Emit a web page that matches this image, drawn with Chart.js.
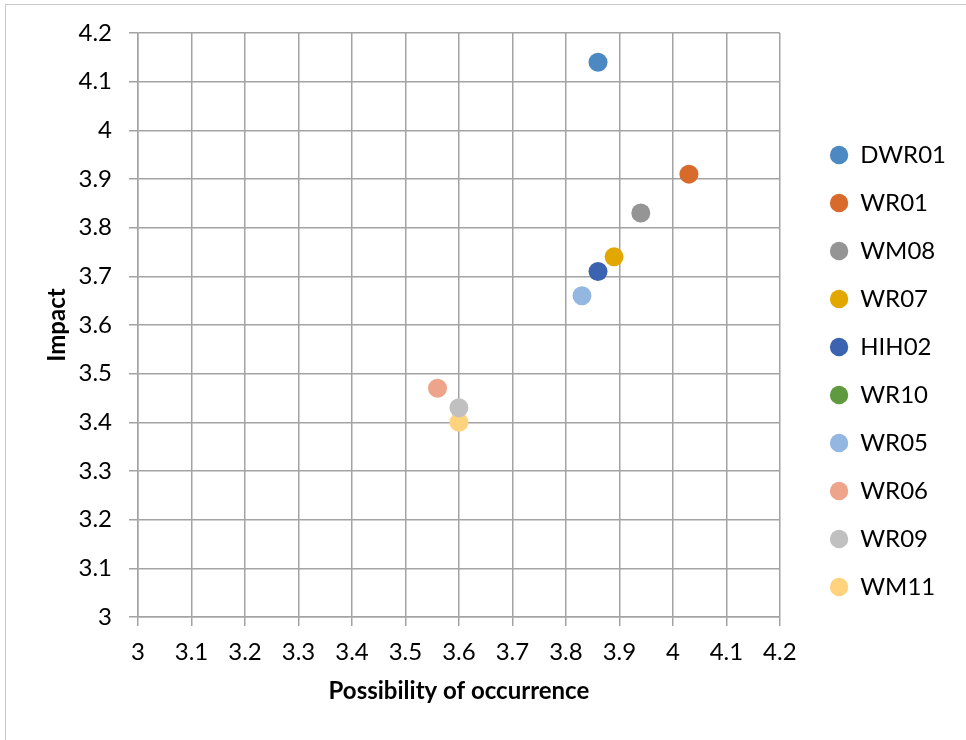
<!DOCTYPE html>
<html>
<head>
<meta charset="utf-8">
<script src="https://cdn.jsdelivr.net/npm/chart.js@4/dist/chart.umd.min.js"></script>
<style>
  html, body { margin: 0; padding: 0; background: #fff; }
  #wrap { position: relative; width: 966px; height: 740px; overflow: hidden; }
  #frame { position: absolute; left: 5px; top: 4px; width: 970px; height: 760px; border: 1px solid #c8c8c8; box-sizing: border-box; pointer-events: none; }
  canvas { position: absolute; left: 0; top: 0; }
</style>
</head>
<body>
<div id="wrap">
  <canvas id="c" width="966" height="740"></canvas>
  <div id="frame"></div>
</div>
<script>
const seriesNames = ['DWR01', 'WR01', 'WM08', 'WR07', 'HIH02', 'WR10', 'WR05', 'WR06', 'WR09', 'WM11'];
const possibility = [3.86, 4.03, 3.94, 3.89, 3.86, null, 3.83, 3.56, 3.60, 3.60];
const impact      = [4.14, 3.91, 3.83, 3.74, 3.71, null, 3.66, 3.47, 3.43, 3.40];
const seriesColors = ['#4c89c2', '#d86b2c', '#959595', '#e3a800', '#3c63b0', '#5f9b3e', '#93b7e1', '#eea48a', '#c0c0c0', '#ffd27e'];
const axisTickLabels = ['3', '3.1', '3.2', '3.3', '3.4', '3.5', '3.6', '3.7', '3.8', '3.9', '4', '4.1', '4.2'];
const xTitle = 'Possibility of occurrence';
const yTitle = 'Impact';

const datasets = seriesNames.map((name, i) => ({
  label: name,
  data: possibility[i] === null ? [] : [{ x: possibility[i], y: impact[i] }],
  backgroundColor: seriesColors[i],
  borderColor: seriesColors[i],
  borderWidth: 0,
  pointRadius: 9.5,
  pointHoverRadius: 9.5
}));

const FONT = 'Lato, "Noto Sans", sans-serif';
const gridColor = '#a3a3a3';

new Chart(document.getElementById('c'), {
  type: 'scatter',
  data: { datasets },
  options: {
    responsive: false,
    animation: false,
    devicePixelRatio: 1,
    layout: { padding: { left: 40, right: 10, top: 33, bottom: 31 } },
    plugins: {
      tooltip: { enabled: false },
      legend: {
        position: 'right',
        labels: {
          usePointStyle: true,
          pointStyle: 'circle',
          boxWidth: 13,
          boxHeight: 13,
          pointStyleWidth: 18.4,
          padding: 24,
          color: '#000',
          font: { family: FONT, size: 24 }
        }
      }
    },
    scales: {
      x: {
        type: 'linear',
        min: 3, max: 4.2,
        afterFit: s => { s.height = 92; s.paddingLeft = 0; s.paddingRight = 0; },
        ticks: {
          stepSize: 0.1,
          color: '#000',
          padding: 12,
          maxRotation: 0,
          font: { family: FONT, size: 24 },
          callback: (v, idx) => axisTickLabels[idx]
        },
        grid: { color: gridColor, lineWidth: 1.5, tickLength: 9, tickColor: gridColor },
        border: { color: gridColor, width: 1.5 },
        title: { display: true, text: xTitle, color: '#000', font: { family: FONT, size: 24, weight: 'bold' }, padding: { top: 0, bottom: 3 } }
      },
      y: {
        type: 'linear',
        min: 3, max: 4.2,
        afterFit: s => { s.width = 98; s.paddingTop = 0; s.paddingBottom = 0; },
        ticks: {
          stepSize: 0.1,
          color: '#000',
          padding: 17,
          font: { family: FONT, size: 24 },
          callback: (v, idx) => axisTickLabels[idx]
        },
        grid: { color: gridColor, lineWidth: 1.5, tickLength: 9, tickColor: gridColor },
        border: { color: gridColor, width: 1.5 },
        title: { display: true, text: yTitle, color: '#000', font: { family: FONT, size: 24, weight: 'bold' }, padding: { top: 3, bottom: 0 } }
      },
      gap: {
        type: 'linear',
        position: 'right',
        display: true,
        afterFit: s => { s.width = 26; s.paddingTop = 0; s.paddingBottom = 0; },
        ticks: { display: false },
        grid: { display: false, drawTicks: false },
        border: { display: false },
        title: { display: false }
      }
    }
  }
});
</script>
</body>
</html>
